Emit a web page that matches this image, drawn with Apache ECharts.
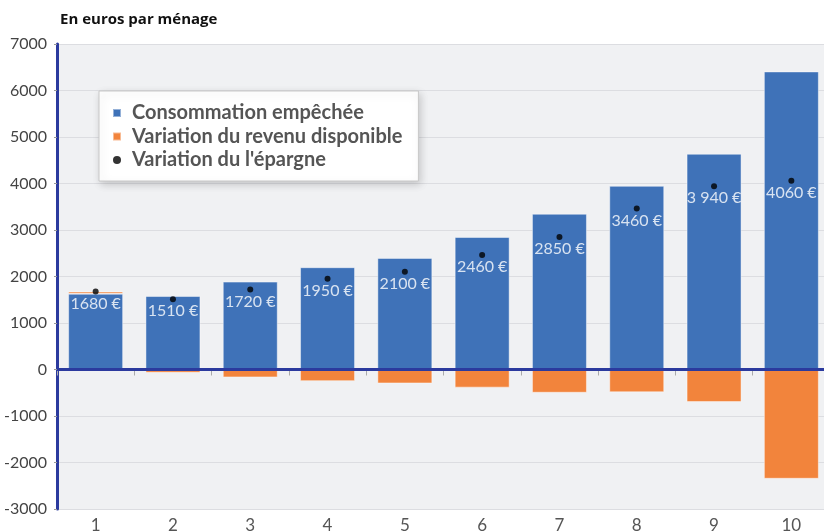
<!DOCTYPE html>
<html><head><meta charset="utf-8">
<script src="https://cdn.jsdelivr.net/npm/echarts@6/dist/echarts.min.js"></script>
<style>html,body{margin:0;padding:0;background:#fff}#c{width:824px;height:532px}</style>
</head><body><div id="c"></div>
<script>
const categories = ['1','2','3','4','5','6','7','8','9','10'];
const consommation = [1630, 1580, 1890, 2200, 2400, 2850, 3350, 3950, 4640, 6410];
const revenu = [50, -70, -170, -250, -300, -390, -500, -490, -700, -2350];
const epargne = [1680, 1510, 1720, 1950, 2100, 2460, 2850, 3460, 3940, 4060];
const epargneLabels = ['1680 €','1510 €','1720 €','1950 €','2100 €','2460 €','2850 €','3460 €','3 940 €','4060 €'];
const yTicks = { min: -3000, max: 7000, interval: 1000 };

const FONT = 'Lato';
const chart = echarts.init(document.getElementById('c'));
chart.setOption({
  animation: false,
  textStyle: { fontFamily: FONT },
  title: { text: 'En euros par ménage', left: 55, top: 7,
    textStyle: { fontSize: 15, fontWeight: 'bold', color: '#111', fontFamily: 'Open Sans' } },
  grid: { left: 57, top: 44, width: 773, height: 465, show: true, backgroundColor: '#f0f1f3', borderWidth: 0,
    outerBoundsMode: 'none', containLabel: false },
  legend: {
    orient: 'vertical', left: 99, top: 91,
    backgroundColor: '#fff', borderColor: '#c8c8c8', borderWidth: 1,
    shadowColor: 'rgba(0,0,0,0.18)', shadowBlur: 8, shadowOffsetX: 2, shadowOffsetY: 3,
    padding: [12, 16, 11, 13], itemGap: 3.5, itemWidth: 8, itemHeight: 8,
    textStyle: { fontSize: 20, fontWeight: 'bold', color: '#555', fontFamily: FONT, lineHeight: 20, padding: [0, 0, 0, 6] },
    data: [
      { name: 'Consommation empêchée', icon: 'rect' },
      { name: 'Variation du revenu disponible', icon: 'rect' },
      { name: "Variation du l'épargne", icon: 'circle' }
    ]
  },
  xAxis: {
    type: 'category', data: categories,
    axisLine: { show: false },
    axisTick: { show: true, alignWithLabel: false, length: 6, lineStyle: { color: '#aaa' } },
    axisLabel: { fontSize: 17, color: '#555', margin: 8, fontFamily: FONT }
  },
  yAxis: {
    type: 'value', min: yTicks.min, max: yTicks.max, interval: yTicks.interval,
    axisLine: { show: true, lineStyle: { color: '#2b3a9e', width: 3 } },
    axisTick: { show: true, length: 3, lineStyle: { color: '#999' } },
    axisLabel: { fontSize: 16, color: '#444', margin: 10, fontFamily: FONT, formatter: v => String(v) },
    splitLine: { lineStyle: { color: '#dcdde1', width: 1 } }
  },
  series: [
    { name: 'Consommation empêchée', type: 'bar', stack: 'a', data: consommation, barWidth: 55,
      itemStyle: { color: '#3f72b8', borderColor: 'rgba(255,255,255,0.45)', borderWidth: 1 },
      markLine: { silent: true, symbol: 'none', label: { show: false },
        lineStyle: { color: '#2b3a9e', width: 3, type: 'solid' }, data: [{ yAxis: 0 }] } },
    { name: 'Variation du revenu disponible', type: 'bar', stack: 'a', data: revenu, barWidth: 55,
      itemStyle: { color: '#f2843c', borderColor: 'rgba(255,255,255,0.45)', borderWidth: 1 } },
    { name: "Variation du l'épargne", type: 'scatter', data: epargne, symbol: 'circle', symbolSize: 6,
      itemStyle: { color: '#000' }, z: 5,
      label: { show: true, position: 'bottom', distance: 1, color: '#fff', fontSize: 16, fontFamily: FONT,
        formatter: p => epargneLabels[p.dataIndex] } }
  ]
});
</script></body></html>
